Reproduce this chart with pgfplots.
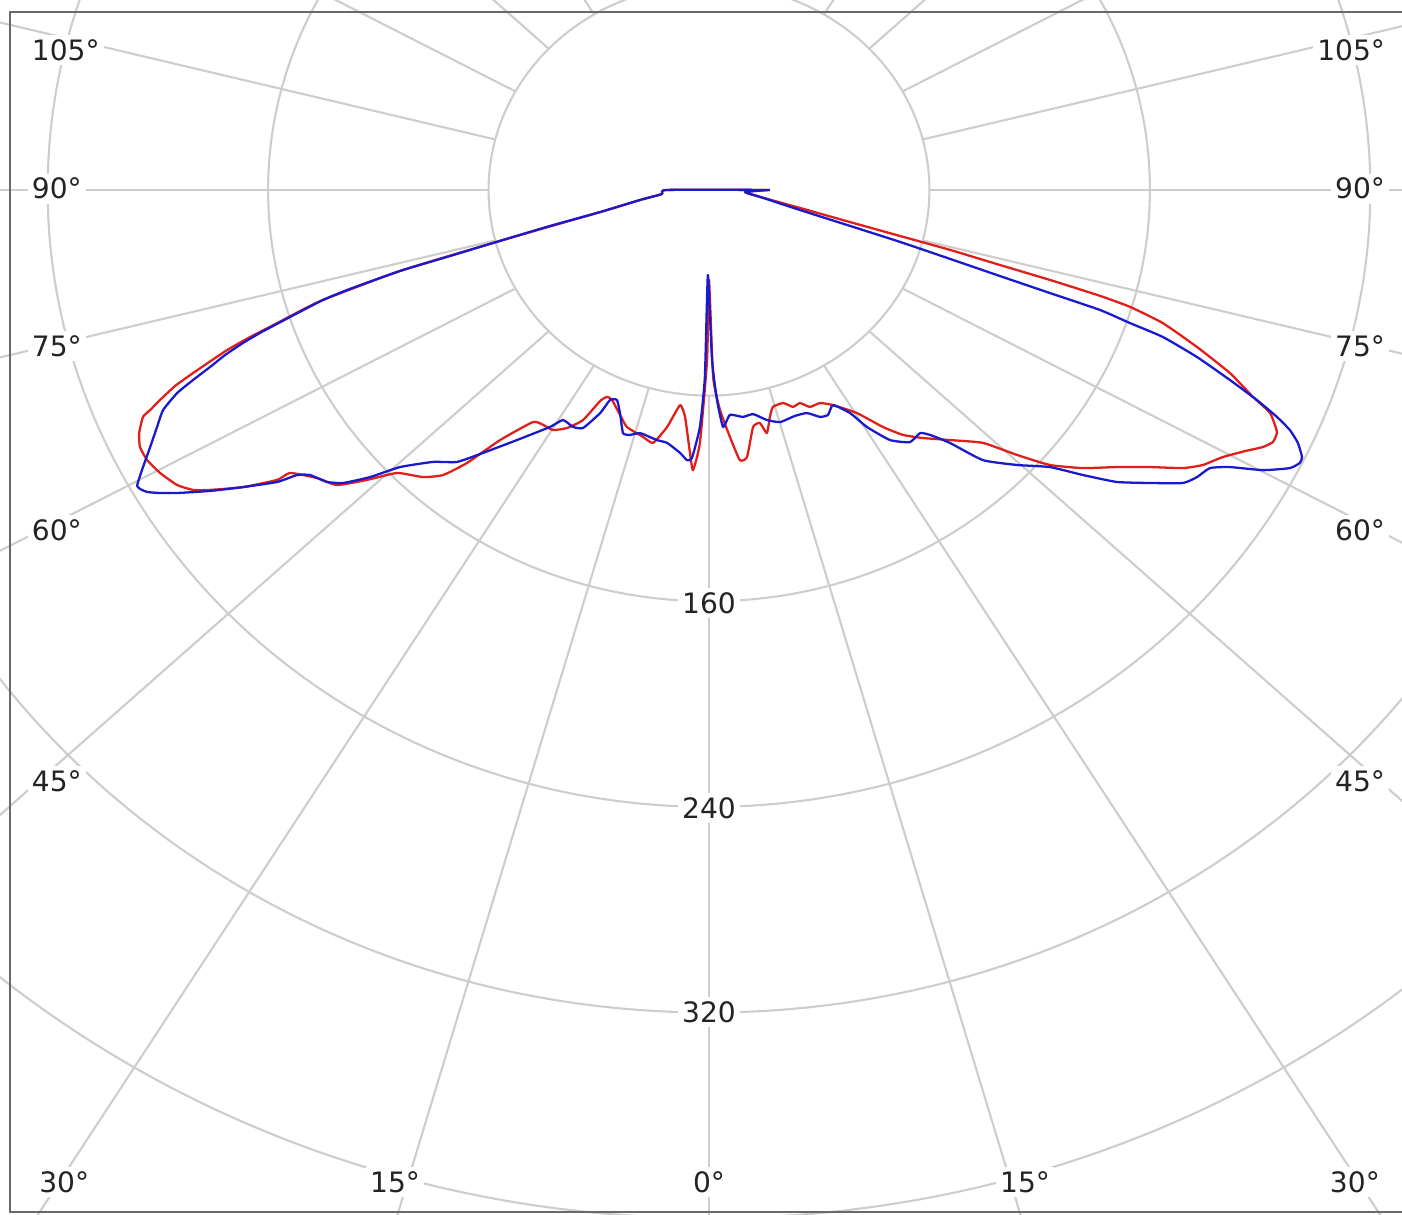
\documentclass[border=0pt]{standalone}
\usepackage{pgfplots}
\pgfplotsset{compat=1.18}
\usepackage{fontspec}
\setmainfont{DejaVu Sans}
\definecolor{gridc}{RGB}{205,205,205}
\definecolor{framec}{RGB}{105,105,105}
\definecolor{curvered}{RGB}{225,30,25}
\definecolor{curveblue}{RGB}{25,25,205}
\definecolor{labc}{RGB}{35,35,35}
\begin{document}
\begin{tikzpicture}
\begin{axis}[
  width=14.02cm, height=12.14cm, scale only axis,
  xmin=-257.3, xmax=251.5, ymin=-398.4, ymax=73.9,
  hide axis, clip=true,
]
\path (rel axis cs:0,0) rectangle (rel axis cs:1,1);
% grid circles
\pgfplotsinvokeforeach{80,160,240,320,400,480,560}{
  \draw[gridc, line width=0.6pt] (axis cs:0,0) ellipse [x radius=#1, y radius=#1];
}
% radial lines
\pgfplotsinvokeforeach{-180,-165,...,180}{
  \draw[gridc, line width=0.6pt]
    (axis cs:{80*sin(#1)/sqrt(sin(#1)^2+0.893*cos(#1)^2)},{-80*0.945*cos(#1)/sqrt(sin(#1)^2+0.893*cos(#1)^2)})
    -- (axis cs:{800*sin(#1)},{-800*0.945*cos(#1)});
}
% frame
\draw[framec, line width=0.6pt] (axis cs:260,69.3) -- (axis cs:-253.6,69.3) -- (axis cs:-253.6,-397.7) -- (axis cs:260,-397.7);
% angle labels
\tikzset{lab/.style={fill=white, inner sep=1.2pt, text=labc, font=\fontsize{8}{9.6}\selectfont}}
\node[lab, anchor=west] at (axis cs:-247.5,54.5) {105°};
\node[lab, anchor=west] at (axis cs:-247.5,0.5) {90°};
\node[lab, anchor=west] at (axis cs:-247.5,-60.7) {75°};
\node[lab, anchor=west] at (axis cs:-247.5,-132.3) {60°};
\node[lab, anchor=west] at (axis cs:-247.5,-230.0) {45°};
\node[lab, anchor=east] at (axis cs:247.1,54.5) {105°};
\node[lab, anchor=east] at (axis cs:247.1,0.5) {90°};
\node[lab, anchor=east] at (axis cs:247.1,-60.7) {75°};
\node[lab, anchor=east] at (axis cs:247.1,-132.3) {60°};
\node[lab, anchor=east] at (axis cs:247.1,-230.0) {45°};
\node[lab] at (axis cs:-234.0,-386.0) {30°};
\node[lab] at (axis cs:-113.9,-386.0) {15°};
\node[lab] at (axis cs:0,-386.0) {0°};
\node[lab] at (axis cs:114.7,-386.0) {15°};
\node[lab] at (axis cs:234.4,-386.0) {30°};
% intensity labels
\node[lab] at (axis cs:0,-160.7) {160};
\node[lab] at (axis cs:0,-240.5) {240};
\node[lab] at (axis cs:0,-319.8) {320};
% red curve
\addplot[curvered, line width=0.65pt, line join=round, smooth, tension=0.3] coordinates {
(22.1,0) (-15.2,0) (-17.1,-1.6) (-25.0,-3.9) (-39.5,-8.6) (-75.8,-19.8) (-112.1,-31.5)
(-140.1,-42.8) (-148.4,-47.1) (-156.7,-51.8) (-166.5,-57.2) (-174.9,-62.3) (-187.2,-71.2)
(-193.8,-76.3) (-199.2,-81.7) (-202.8,-85.6) (-205.4,-88.3) (-206.8,-94.6) (-206.5,-100.0)
(-203.9,-105.1) (-199.2,-110.1) (-193.0,-114.8) (-187.2,-116.7) (-181.1,-116.7) (-169.1,-115.6)
(-156.7,-112.8) (-152.0,-110.1) (-142.2,-112.1) (-135.0,-114.8) (-124.1,-112.8) (-113.2,-110.1)
(-103.8,-111.7) (-96.5,-110.9) (-87.8,-106.2) (-75.8,-97.3) (-63.9,-90.3) (-60.2,-91.4)
(-56.6,-93.4) (-51.5,-92.6) (-45.7,-89.5) (-39.5,-82.1) (-37.0,-80.5) (-35.2,-81.7)
(-32.3,-87.5) (-29.8,-92.2) (-23.9,-96.1) (-20.3,-98.4) (-15.2,-92.2) (-10.5,-83.7)
(-8.7,-88.3) (-6.9,-102.3) (-5.8,-109.0) (-3.3,-98.4) (-0.7,-66.1) (0,-35.0)
(1.5,-72.8) (4.0,-85.6) (7.6,-96.1) (11.2,-105.1) (13.8,-103.9) (16.0,-92.2)
(18.5,-90.7) (21.0,-94.6) (22.1,-88.3) (23.2,-84.4) (26.9,-82.9) (30.5,-84.4)
(33.0,-82.9) (36.6,-84.4) (40.3,-82.9) (45.0,-83.7) (53.7,-86.8) (63.1,-92.2)
(70.4,-95.3) (77.6,-96.5) (87.4,-97.3) (99.4,-98.4) (111.8,-103.1) (123.7,-107.0)
(135.7,-108.2) (148.0,-107.8) (160.0,-107.8) (172.0,-108.2) (179.2,-107.0) (186.5,-103.9)
(194.5,-101.6) (201.0,-100.0) (204.6,-98.1) (206.1,-94.2) (203.6,-86.8) (197.4,-80.5)
(189.0,-71.2) (177.1,-61.1) (164.7,-51.8) (152.8,-45.5) (141.9,-41.2) (123.7,-35.0)
(105.6,-29.2) (87.4,-23.3) (69.3,-17.9) (51.2,-12.5) (33.0,-7.0) (18.5,-2.7)
(13.1,-0.8) (22.1,0)
};
% blue curve
\addplot[curveblue, line width=0.65pt, line join=round, smooth, tension=0.3] coordinates {
(22.1,0) (-15.2,0) (-17.1,-1.6) (-25.0,-3.9) (-39.5,-8.6) (-57.7,-14.0) (-75.8,-19.8)
(-94.0,-25.7) (-112.1,-31.5) (-130.3,-38.5) (-140.1,-42.8) (-152.0,-49.4) (-162.9,-55.6)
(-169.1,-59.5) (-175.6,-64.2) (-181.1,-68.9) (-187.2,-73.9) (-193.0,-79.0) (-198.1,-85.6)
(-200.3,-92.2) (-202.8,-100.0) (-205.4,-107.8) (-207.2,-113.6) (-207.5,-115.2) (-206.5,-116.3)
(-203.9,-117.5) (-199.2,-117.9) (-193.0,-117.9) (-181.1,-117.1) (-169.1,-115.6) (-156.7,-113.6)
(-149.5,-110.9) (-144.8,-110.9) (-138.6,-113.6) (-132.8,-114.0) (-123.0,-111.7) (-112.1,-107.8)
(-100.1,-105.8) (-91.4,-105.8) (-82.0,-102.3) (-69.7,-97.3) (-57.7,-92.2) (-53.0,-89.5)
(-49.3,-92.2) (-45.7,-92.6) (-39.5,-86.8) (-35.9,-81.7) (-33.4,-81.7) (-32.3,-86.8)
(-31.2,-94.6) (-28.7,-95.3) (-25.0,-94.6) (-18.9,-97.3) (-15.2,-98.4) (-10.5,-102.3)
(-8.0,-105.1) (-6.2,-104.3) (-3.3,-92.2) (-1.5,-72.8) (-0.4,-33.1) (1.1,-66.1)
(2.9,-81.7) (5.1,-92.2) (7.6,-87.5) (12.3,-88.3) (16.0,-87.2) (21.0,-89.5)
(25.8,-90.3) (31.2,-87.9) (35.6,-86.8) (40.3,-88.3) (43.2,-87.5) (45.0,-83.7)
(51.2,-86.8) (57.3,-92.2) (65.7,-97.3) (72.9,-98.1) (76.6,-94.6) (80.2,-95.3)
(87.4,-98.4) (99.4,-105.1) (111.8,-107.0) (123.7,-107.8) (135.7,-110.9) (148.0,-113.6)
(160.0,-114.0) (172.0,-114.0) (177.1,-111.7) (181.8,-108.2) (189.0,-107.8) (201.0,-109.0)
(210.8,-108.2) (214.4,-106.2) (215.2,-103.9) (213.7,-98.4) (210.8,-93.4) (206.1,-88.3)
(198.8,-81.7) (189.0,-73.9) (177.1,-65.0) (164.7,-57.2) (152.8,-51.8) (141.9,-46.7)
(123.7,-40.1) (105.6,-33.5) (87.4,-26.8) (69.3,-20.2) (51.2,-14.0) (33.0,-7.8)
(18.5,-2.7) (13.1,-0.8) (22.1,0)
};
\end{axis}
\end{tikzpicture}
\end{document}
